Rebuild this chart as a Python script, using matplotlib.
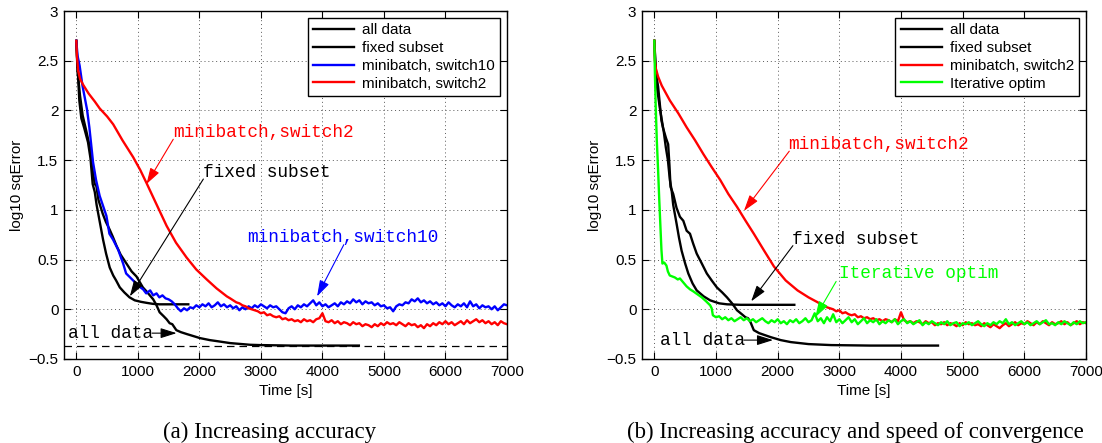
import matplotlib
matplotlib.use('Agg')
import matplotlib.pyplot as plt
import numpy as np

# ---------------- panel (a) data ----------------
all_a_t = [0, 20, 60, 103, 160, 217, 266, 300, 326, 360, 430, 480, 543, 593, 652, 720, 815, 900, 978,
           1082, 1141, 1250, 1304, 1354, 1420, 1467, 1517, 1560, 1626, 1700, 1800, 2011, 2170, 2283,
           2500, 2826, 2985, 3500, 4592]
all_a_y = [2.70, 2.40, 2.15, 1.95, 1.80, 1.64, 1.40, 1.26, 1.24, 1.10, 0.96, 0.88, 0.80, 0.73, 0.64,
           0.55, 0.46, 0.38, 0.33, 0.22, 0.18, 0.10, 0.04, -0.03, -0.07, -0.10, -0.14, -0.15, -0.21,
           -0.23, -0.25, -0.29, -0.31, -0.32, -0.34, -0.357, -0.36, -0.365, -0.365]

fixed_a_t = [0, 20, 49, 82, 130, 190, 230, 266, 300, 330, 375, 435, 484, 543, 600, 647, 707, 780,
             865, 950, 1050, 1141, 1240, 1350, 1467, 1820]
fixed_a_y = [2.70, 2.45, 2.10, 1.92, 1.82, 1.68, 1.52, 1.26, 1.18, 1.05, 0.90, 0.70, 0.56, 0.42,
             0.34, 0.29, 0.22, 0.17, 0.12, 0.09, 0.075, 0.065, 0.055, 0.05, 0.05, 0.05]

blue_head_t = [0, 20, 54, 100, 174, 212, 272, 321, 380, 440, 489, 538, 598, 680, 761, 810, 924,
               1000, 1087, 1136, 1200, 1250, 1304, 1350, 1400, 1450]
blue_head_y = [2.70, 2.55, 2.45, 2.25, 2.01, 1.83, 1.48, 1.30, 1.14, 1.03, 0.94, 0.76, 0.70, 0.60,
               0.46, 0.36, 0.29, 0.24, 0.20, 0.16, 0.19, 0.14, 0.16, 0.12, 0.14, 0.11]
blue_tail_t = np.arange(1500, 7001, 50)
blue_tail_y = [0.10, 0.08, 0.05, 0.01, -0.02, 0.01, -0.01, 0.02, 0.01, 0.04,
               0.02, 0.05, 0.03, 0.06, 0.02, 0.04, 0.07, 0.03, 0.05, 0.02,
               0.04, 0.01, 0.03, -0.01, 0.02, 0.00, 0.03, 0.01, 0.04, 0.02,
               0.05, 0.03, 0.01, 0.04, 0.02, 0.03, 0.00, -0.03, -0.04, 0.01,
               0.03, 0.00, 0.04, 0.02, 0.05, 0.03, 0.06, 0.09, 0.04, 0.07,
               0.03, 0.05, 0.02, 0.04, 0.06, 0.03, 0.07, 0.05, 0.08, 0.06,
               0.10, 0.07, 0.09, 0.05, 0.08, 0.06, 0.07, 0.04, 0.06, 0.03,
               0.04, 0.01, 0.02, -0.02, 0.03, 0.05, 0.04, 0.07, 0.06, 0.10,
               0.08, 0.11, 0.07, 0.09, 0.06, 0.08, 0.05, 0.07, 0.04, 0.06,
               0.03, 0.07, 0.04, 0.02, 0.05, 0.03, 0.06, 0.02, 0.08, 0.03,
               0.05, 0.01, 0.04, 0.02, 0.03, 0.00, 0.03, -0.01, 0.02, 0.05,
               0.04]

red_a_head_t = [0, 10, 30, 60, 109, 200, 300, 380, 500, 600, 750, 924, 1040, 1141, 1300, 1467,
                1620, 1793, 1950, 2120, 2280, 2446]
red_a_head_y = [2.70, 2.55, 2.40, 2.32, 2.26, 2.17, 2.09, 2.02, 1.94, 1.86, 1.70, 1.53, 1.40,
                1.27, 1.06, 0.84, 0.67, 0.52, 0.40, 0.30, 0.21, 0.13]
red_a_tail_t = np.arange(2500, 7001, 50)
red_a_tail_y = [0.11, 0.09, 0.07, 0.06, 0.04, 0.03, 0.01, 0.00, -0.01, -0.02,
                -0.04, -0.03, -0.06, -0.05, -0.07, -0.08, -0.07, -0.10, -0.09, -0.11,
                -0.10, -0.12, -0.11, -0.13, -0.10, -0.12, -0.11, -0.13, -0.10, -0.09,
                -0.04, -0.12, -0.13, -0.11, -0.14, -0.12, -0.15, -0.13, -0.14, -0.16,
                -0.13, -0.15, -0.14, -0.17, -0.15, -0.16, -0.18, -0.15, -0.17, -0.14,
                -0.16, -0.13, -0.15, -0.14, -0.16, -0.13, -0.15, -0.17, -0.14, -0.16,
                -0.15, -0.18, -0.16, -0.19, -0.15, -0.17, -0.14, -0.16, -0.13, -0.15,
                -0.12, -0.15, -0.13, -0.16, -0.14, -0.12, -0.15, -0.11, -0.14, -0.12,
                -0.10, -0.13, -0.11, -0.14, -0.12, -0.15, -0.13, -0.16, -0.12, -0.14,
                -0.15]

all_data_level = -0.365

# ---------------- panel (b) data ----------------
all_b_t = [0, 20, 50, 88, 143, 190, 224, 245, 263, 306, 360, 415, 470, 524, 578, 630, 687, 770,
           851, 930, 1014, 1100, 1178, 1260, 1341, 1420, 1477, 1520, 1560, 1613, 1700, 1886, 2050,
           2213, 2500, 2866, 3500, 4600]
all_b_y = [2.70, 2.45, 2.20, 2.03, 1.82, 1.72, 1.66, 1.45, 1.23, 1.16, 1.02, 0.93, 0.89, 0.79,
           0.76, 0.66, 0.56, 0.46, 0.36, 0.29, 0.22, 0.17, 0.12, 0.06, -0.01, -0.05, -0.08, -0.09,
           -0.13, -0.21, -0.24, -0.28, -0.31, -0.33, -0.35, -0.36, -0.365, -0.365]

fixed_b_t = [0, 20, 61, 115, 150, 186, 220, 252, 280, 306, 361, 400, 442, 500, 551, 620, 687, 800,
             905, 1050, 1178, 1400, 2270]
fixed_b_y = [2.70, 2.40, 2.24, 1.90, 1.80, 1.63, 1.50, 1.30, 1.20, 1.05, 0.86, 0.72, 0.59, 0.46,
             0.36, 0.26, 0.19, 0.13, 0.09, 0.06, 0.05, 0.045, 0.045]

red_b_head_t = [0, 8, 25, 61, 120, 252, 390, 524, 660, 796, 930, 1069, 1200, 1341, 1480, 1613,
                1780, 1940, 2130, 2322, 2500, 2650]
red_b_head_y = [2.70, 2.50, 2.42, 2.34, 2.25, 2.10, 1.97, 1.83, 1.70, 1.56, 1.43, 1.30, 1.16,
                1.03, 0.89, 0.76, 0.59, 0.43, 0.29, 0.19, 0.12, 0.07]
red_b_tail_t = np.arange(2700, 7001, 50)
red_b_tail_y = [0.05, 0.04, 0.02, 0.01, 0.00, -0.02, -0.01, -0.04, -0.03, -0.05,
                -0.06, -0.05, -0.08, -0.07, -0.09, -0.08, -0.10, -0.09, -0.11, -0.10,
                -0.12, -0.10, -0.11, -0.13, -0.10, -0.12, -0.03, -0.11, -0.13, -0.12,
                -0.14, -0.12, -0.13, -0.15, -0.12, -0.14, -0.13, -0.16, -0.14, -0.15,
                -0.13, -0.16, -0.14, -0.15, -0.17, -0.14, -0.16, -0.13, -0.15, -0.14,
                -0.16, -0.15, -0.17, -0.14, -0.16, -0.18, -0.15, -0.17, -0.19, -0.16,
                -0.14, -0.17, -0.15, -0.13, -0.16, -0.14, -0.15, -0.12, -0.14, -0.16,
                -0.13, -0.15, -0.12, -0.14, -0.16, -0.13, -0.15, -0.14, -0.12, -0.15,
                -0.13, -0.16, -0.14, -0.12, -0.15, -0.13, -0.14]

green_head_t = [0, 10, 23, 40, 61, 80, 99, 115, 131, 160, 196, 220, 250, 290, 333, 380, 415, 470,
                524, 580, 632, 700, 769, 840, 905, 930, 949, 1000]
green_head_y = [2.70, 2.35, 2.03, 1.70, 1.40, 1.10, 0.83, 0.60, 0.46, 0.47, 0.44, 0.38, 0.34,
                0.33, 0.32, 0.30, 0.31, 0.27, 0.23, 0.20, 0.18, 0.15, 0.12, 0.08, 0.04, 0.01,
                -0.06, -0.08]
green_tail_t = np.arange(1050, 7001, 50)
green_tail_y = [-0.07, -0.10, -0.08, -0.11, -0.09, -0.12, -0.10, -0.08, -0.11, -0.09,
                -0.12, -0.10, -0.13, -0.11, -0.09, -0.12, -0.14, -0.11, -0.13, -0.10,
                -0.14, -0.12, -0.15, -0.11, -0.13, -0.10, -0.14, -0.12, -0.09, -0.13,
                -0.11, -0.04, -0.12, -0.09, -0.14, -0.08, -0.12, -0.05, -0.13, -0.10,
                -0.14, -0.11, -0.08, -0.13, -0.10, -0.15, -0.12, -0.09, -0.14, -0.11,
                -0.13, -0.10, -0.15, -0.12, -0.14, -0.11, -0.13, -0.10, -0.15, -0.12,
                -0.10, -0.14, -0.12, -0.15, -0.13, -0.11, -0.16, -0.13, -0.15, -0.12,
                -0.14, -0.16, -0.13, -0.15, -0.12, -0.16, -0.14, -0.13, -0.17, -0.14,
                -0.15, -0.13, -0.16, -0.14, -0.12, -0.15, -0.17, -0.14, -0.16, -0.13,
                -0.15, -0.12, -0.14, -0.10, -0.15, -0.13, -0.16, -0.14, -0.12, -0.15,
                -0.13, -0.16, -0.14, -0.12, -0.15, -0.13, -0.11, -0.15, -0.14, -0.16,
                -0.13, -0.15, -0.12, -0.14, -0.16, -0.13, -0.15, -0.12, -0.14, -0.13]

x_ticks = [0, 1000, 2000, 3000, 4000, 5000, 6000, 7000]
y_ticks = [-0.5, 0, 0.5, 1, 1.5, 2, 2.5, 3]
captions = ['(a) Increasing accuracy', '(b) Increasing accuracy and speed of convergence']

GREEN = (0, 1, 0)
MONO = 'Liberation Mono'
SANS = 'Liberation Sans'


def style_axes(ax):
    ax.set_xlim(-200, 7000)
    ax.set_ylim(-0.5, 3)
    ax.set_xticks(x_ticks)
    ax.set_yticks(y_ticks)
    ax.set_yticklabels(['%g' % v if v >= 0 else '\u22120.5' for v in y_ticks])
    ax.tick_params(direction='in', top=True, right=True, length=5, width=0.8,
                   labelsize=11, pad=4)
    for lab in ax.get_xticklabels() + ax.get_yticklabels():
        lab.set_family(SANS)
    ax.grid(True, ls=(0, (1, 3)), color='0.35', lw=0.7)
    for sp in ax.spines.values():
        sp.set_linewidth(1.0)
    ax.set_xlabel('Time [s]', family=SANS, fontsize=11, labelpad=4)
    ax.set_ylabel('log10 sqError', family=SANS, fontsize=11, labelpad=3)


def note(ax, text, pos, start, tip, color):
    ax.text(pos[0], pos[1], text, family=MONO, fontsize=12.8, color=color,
            ha='left', va='center')
    ax.annotate('', xy=tip, xytext=start,
                arrowprops=dict(arrowstyle='-|>,head_length=0.7,head_width=0.22',
                                color=color, lw=0.8, shrinkA=0, shrinkB=0,
                                mutation_scale=14))


fig = plt.figure(figsize=(11.02, 4.43), dpi=100)
ax_a = fig.add_axes([64 / 1102, 84 / 443, 443 / 1102, 348 / 443])
ax_b = fig.add_axes([642 / 1102, 84 / 443, 444 / 1102, 348 / 443])

lw = 1.7

# (a)
ax_a.plot(all_a_t, all_a_y, color='k', lw=lw, label='all data')
ax_a.plot(fixed_a_t, fixed_a_y, color='k', lw=lw, label='fixed subset')
ax_a.plot(np.concatenate([blue_head_t, blue_tail_t]), np.concatenate([blue_head_y, blue_tail_y]),
          color='b', lw=lw, label='minibatch, switch10')
ax_a.plot(np.concatenate([red_a_head_t, red_a_tail_t]), np.concatenate([red_a_head_y, red_a_tail_y]),
          color='r', lw=lw, label='minibatch, switch2')
ax_a.axhline(all_data_level, color='k', lw=0.9, ls=(0, (6, 4)))
style_axes(ax_a)
ax_a.legend(loc='upper right', prop={'family': SANS, 'size': 11}, fancybox=False,
            edgecolor='k', framealpha=1, borderaxespad=0.45, handlelength=2.7,
            labelspacing=0.25, borderpad=0.35, handletextpad=0.5).get_frame().set_linewidth(1.0)

note(ax_a, 'minibatch,switch2', (1576, 1.78), (1576, 1.71), (1141, 1.26), 'r')
note(ax_a, 'fixed subset', (2065, 1.375), (2065, 1.31), (870, 0.13), 'k')
note(ax_a, 'minibatch,switch10', (2772, 0.72), (4348, 0.65), (3913, 0.13), 'b')
note(ax_a, 'all data', (-136, -0.24), (1230, -0.24), (1630, -0.24), 'k')

# (b)
ax_b.plot(all_b_t, all_b_y, color='k', lw=lw, label='all data')
ax_b.plot(fixed_b_t, fixed_b_y, color='k', lw=lw, label='fixed subset')
ax_b.plot(np.concatenate([red_b_head_t, red_b_tail_t]), np.concatenate([red_b_head_y, red_b_tail_y]),
          color='r', lw=lw, label='minibatch, switch2')
ax_b.plot(np.concatenate([green_head_t, green_tail_t]), np.concatenate([green_head_y, green_tail_y]),
          color=GREEN, lw=lw, label='Iterative optim')
style_axes(ax_b)
ax_b.legend(loc='upper right', prop={'family': SANS, 'size': 11}, fancybox=False,
            edgecolor='k', framealpha=1, borderaxespad=0.45, handlelength=2.7,
            labelspacing=0.25, borderpad=0.35, handletextpad=0.5).get_frame().set_linewidth(1.0)

note(ax_b, 'minibatch,switch2', (2176, 1.66), (2188, 1.59), (1453, 0.99), 'r')
note(ax_b, 'fixed subset', (2235, 0.70), (2247, 0.64), (1570, 0.08), 'k')
note(ax_b, 'Iterative optim', (3000, 0.36), (2948, 0.28), (2610, -0.08), GREEN)
note(ax_b, 'all data', (88, -0.31), (1450, -0.31), (1924, -0.31), 'k')

fig.text(270 / 1102, 1 - 432 / 443, captions[0], family='Liberation Serif', fontsize=16.5,
         ha='center', va='center')
fig.text(855 / 1102, 1 - 432 / 443, captions[1], family='Liberation Serif', fontsize=16.5,
         ha='center', va='center')

fig.savefig('out.png', dpi=100)
